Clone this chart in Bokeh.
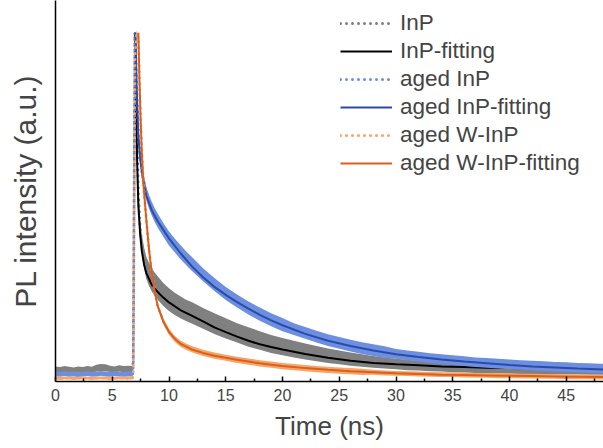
from bokeh.plotting import figure
from bokeh.models import Range1d, FixedTicker, Legend, LegendItem
from bokeh.embed import file_html
from bokeh.resources import INLINE

# ---- data ----
t_data = [0.0, 0.4, 0.8, 1.2, 1.6, 2.0, 2.4, 2.8, 3.2, 3.6, 4.0, 4.4, 4.8, 5.2, 5.6, 6.0, 6.4, 6.8,
          6.85, 7.0, 7.15, 7.3, 7.45, 7.6, 7.8, 8.0, 8.25, 8.5, 8.75, 9.0, 9.5, 10.0, 10.5, 11.0, 11.5, 12.0,
          13, 14, 15, 16, 17, 18, 19, 20, 21, 22, 23, 24, 25, 26, 27, 28, 29, 30, 31, 32, 33, 34, 35, 36,
          37, 38, 39, 40, 41, 42, 43, 44, 45, 46, 47, 48, 48.5]

inp_data = [0.026, 0.024, 0.027, 0.025, 0.023, 0.026, 0.024, 0.027, 0.025, 0.030, 0.032, 0.031, 0.028, 0.026, 0.029, 0.027, 0.028, 0.027,
            0.06, 1.0, 0.74, 0.54, 0.44, 0.39, 0.35, 0.32, 0.30, 0.285, 0.272, 0.262, 0.243, 0.228, 0.216, 0.206, 0.197, 0.190,
            0.174, 0.159, 0.145, 0.132, 0.120, 0.110, 0.100, 0.092, 0.085, 0.078, 0.072, 0.066, 0.061, 0.056, 0.052, 0.048, 0.045, 0.042, 0.039, 0.037, 0.035, 0.033, 0.031, 0.029,
            0.028, 0.027, 0.026, 0.025, 0.024, 0.024, 0.023, 0.023, 0.022, 0.022, 0.021, 0.021, 0.021]
inp_noise = [0.009, 0.009, 0.009, 0.009, 0.009, 0.009, 0.009, 0.009, 0.009, 0.010, 0.010, 0.010, 0.009, 0.009, 0.009, 0.009, 0.009, 0.009,
             0.0, 0.0, 0.015, 0.020, 0.025, 0.028, 0.030, 0.032, 0.033, 0.034, 0.034, 0.034, 0.033, 0.033, 0.032, 0.032, 0.031, 0.031,
             0.030, 0.030, 0.029, 0.028, 0.028, 0.027, 0.026, 0.025, 0.024, 0.023, 0.022, 0.021, 0.020, 0.019, 0.018, 0.017, 0.016, 0.015, 0.015, 0.014, 0.014, 0.013, 0.013, 0.012,
             0.012, 0.012, 0.011, 0.011, 0.011, 0.011, 0.010, 0.010, 0.010, 0.010, 0.010, 0.010, 0.010]

aged_data = [0.013, 0.012, 0.014, 0.012, 0.013, 0.011, 0.013, 0.014, 0.012, 0.013, 0.015, 0.013, 0.012, 0.014, 0.013, 0.012, 0.013, 0.013,
             0.04, 1.0, 0.85, 0.71, 0.65, 0.60, 0.565, 0.535, 0.51, 0.49, 0.472, 0.457, 0.43, 0.405, 0.385, 0.366, 0.348, 0.332,
             0.300, 0.272, 0.246, 0.224, 0.204, 0.186, 0.170, 0.156, 0.143, 0.132, 0.121, 0.111, 0.103, 0.095, 0.088, 0.082, 0.076, 0.071, 0.067, 0.063, 0.059, 0.056, 0.053, 0.050,
             0.047, 0.045, 0.043, 0.041, 0.039, 0.037, 0.036, 0.034, 0.033, 0.031, 0.030, 0.029, 0.029]
aged_noise = [0.007, 0.007, 0.007, 0.007, 0.007, 0.007, 0.007, 0.007, 0.007, 0.007, 0.007, 0.007, 0.007, 0.007, 0.007, 0.007, 0.007, 0.007,
              0.0, 0.0, 0.012, 0.016, 0.020, 0.020, 0.020, 0.020, 0.020, 0.020, 0.020, 0.020, 0.020, 0.020, 0.020, 0.020, 0.020, 0.020,
              0.019, 0.019, 0.019, 0.019, 0.019, 0.019, 0.019, 0.019, 0.017, 0.017, 0.017, 0.017, 0.017, 0.017, 0.017, 0.017, 0.017, 0.014, 0.014, 0.014, 0.014, 0.014, 0.014, 0.014,
              0.014, 0.014, 0.014, 0.014, 0.014, 0.014, 0.014, 0.014, 0.014, 0.014, 0.014, 0.014, 0.014]

agedw_data = [0.001, 0.000, 0.002, 0.001, 0.000, 0.001, 0.002, 0.001, 0.000, 0.001, 0.002, 0.001, 0.000, 0.001, 0.002, 0.001, 0.001, 0.001,
              0.02, 0.93, 1.0, 0.98, 0.80, 0.66, 0.54, 0.46, 0.37, 0.30, 0.25, 0.21, 0.165, 0.135, 0.115, 0.101, 0.092, 0.085,
              0.074, 0.066, 0.060, 0.054, 0.049, 0.044, 0.040, 0.036, 0.033, 0.030, 0.027, 0.025, 0.023, 0.021, 0.019, 0.018, 0.016, 0.015, 0.014, 0.013, 0.012, 0.011, 0.011, 0.010,
              0.009, 0.009, 0.008, 0.008, 0.007, 0.007, 0.006, 0.006, 0.005, 0.005, 0.005, 0.004, 0.004]
agedw_noise = [0.004, 0.004, 0.004, 0.004, 0.004, 0.004, 0.004, 0.004, 0.004, 0.004, 0.004, 0.004, 0.004, 0.004, 0.004, 0.004, 0.004, 0.004,
               0.0, 0.0, 0.008, 0.008, 0.008, 0.008, 0.008, 0.008, 0.008, 0.008, 0.008, 0.008, 0.009, 0.009, 0.009, 0.009, 0.009, 0.009,
               0.009, 0.009, 0.009, 0.009, 0.009, 0.009, 0.009, 0.009, 0.009, 0.009, 0.009, 0.009, 0.009, 0.009, 0.009, 0.007, 0.007, 0.007, 0.007, 0.007, 0.007, 0.007, 0.007, 0.007,
               0.007, 0.007, 0.007, 0.007, 0.007, 0.007, 0.007, 0.007, 0.007, 0.007, 0.007, 0.007, 0.007]

t_fit_inp = [7.0, 7.1, 7.2, 7.3, 7.45, 7.6, 7.8, 8.0, 8.5, 9.0, 9.5, 10, 11, 12, 13, 14, 15, 16, 17, 18, 19, 20,
             22, 24, 26, 28, 30, 32, 34, 36, 38, 40, 42, 44, 46, 48.5]
fit_inp = [1.0, 0.78, 0.62, 0.50, 0.42, 0.37, 0.33, 0.305, 0.27, 0.25, 0.234, 0.22, 0.198, 0.182, 0.165, 0.148, 0.134, 0.121, 0.109, 0.099, 0.091, 0.084,
           0.071, 0.060, 0.051, 0.045, 0.041, 0.038, 0.035, 0.033, 0.031, 0.030, 0.029, 0.028, 0.027, 0.026]

t_fit_aged = [7.05, 7.15, 7.3, 7.45, 7.6, 7.8, 8.0, 8.5, 9.0, 9.5, 10, 11, 12, 13, 14, 15, 16, 17, 18, 19, 20,
              22, 24, 26, 28, 30, 32, 34, 36, 38, 40, 42, 44, 46, 48.5]
fit_aged = [1.0, 0.84, 0.70, 0.64, 0.60, 0.56, 0.53, 0.485, 0.455, 0.43, 0.405, 0.363, 0.325, 0.293, 0.265, 0.242, 0.221, 0.202, 0.184, 0.168, 0.154,
            0.129, 0.109, 0.094, 0.081, 0.070, 0.062, 0.055, 0.049, 0.044, 0.039, 0.035, 0.032, 0.029, 0.026]

t_fit_agedw = [7.3, 7.4, 7.5, 7.6, 7.75, 8.0, 8.25, 8.5, 8.75, 9.0, 9.5, 10, 10.5, 11, 12, 13, 14, 15, 16, 17, 18, 19, 20,
               22, 24, 26, 28, 30, 32, 34, 36, 38, 40, 42, 44, 46, 48.5]
fit_agedw = [1.0, 0.86, 0.75, 0.66, 0.56, 0.46, 0.37, 0.30, 0.25, 0.21, 0.165, 0.135, 0.115, 0.101, 0.084, 0.074, 0.066, 0.060, 0.054, 0.049, 0.044, 0.040, 0.036,
             0.030, 0.025, 0.021, 0.018, 0.015, 0.013, 0.011, 0.010, 0.009, 0.008, 0.007, 0.006, 0.005, 0.004]

x_ticks = [0, 5, 10, 15, 20, 25, 30, 35, 40, 45]
x_minor = [2.5, 7.5, 12.5, 17.5, 22.5, 27.5, 32.5, 37.5, 42.5, 47.5]

labels = ["InP", "InP-fitting", "aged InP", "aged InP-fitting", "aged W-InP", "aged W-InP-fitting"]

FONT = "Liberation Sans"
C_GRAY, C_BLACK = "#808080", "#000000"
C_BLUE_D, C_BLUE_F = "#6d8fdf", "#2b4bab"
C_OR_D, C_OR_F = "#f7a467", "#d9601c"

p = figure(width=603, height=448, output_backend="svg", toolbar_location=None,
           x_range=Range1d(0, 48.28), y_range=Range1d(-0.0087, 1.0934),
           min_border_left=55, min_border_right=0, min_border_top=0, min_border_bottom=67)
p.outline_line_color = None
p.xgrid.visible = False
p.ygrid.visible = False
p.background_fill_color = "white"
p.border_fill_color = "white"


def draw_data(c, n, color):
    lo = [a - b for a, b in zip(c, n)]
    hi = [a + b for a, b in zip(c, n)]
    p.varea(x=t_data, y1=lo, y2=hi, fill_color=color, fill_alpha=1.0)
    return p.line(t_data, c, line_color=color, line_width=3, line_dash="0 6", line_cap="round")


r1 = draw_data(inp_data, inp_noise, C_GRAY)
r2 = p.line(t_fit_inp, fit_inp, line_color=C_BLACK, line_width=2)
r3 = draw_data(aged_data, aged_noise, C_BLUE_D)
r4 = p.line(t_fit_aged, fit_aged, line_color=C_BLUE_F, line_width=2)
r5 = draw_data(agedw_data, agedw_noise, C_OR_D)
r6 = p.line(t_fit_agedw, fit_agedw, line_color=C_OR_F, line_width=2)

legend = Legend(items=[LegendItem(label=l, renderers=[r]) for l, r in zip(labels, [r1, r2, r3, r4, r5, r6])],
                location=(285, 204), border_line_color=None, background_fill_alpha=0,
                padding=0, spacing=0, margin=0, glyph_width=52, glyph_height=28, label_height=28,
                label_standoff=8, label_text_font=FONT, label_text_font_size="22.5px")
p.add_layout(legend, "center")

xa = p.xaxis[0]
xa.ticker = FixedTicker(ticks=x_ticks, minor_ticks=x_minor)
xa.axis_label = "Time (ns)"
xa.axis_label_text_font = FONT
xa.axis_label_text_font_size = "26px"
xa.axis_label_text_font_style = "normal"
xa.axis_label_standoff = 7
xa.major_label_text_font = FONT
xa.major_label_text_font_size = "16px"
xa.major_label_standoff = 7
xa.major_tick_in = 5
xa.major_tick_out = 0
xa.minor_tick_in = 3
xa.minor_tick_out = 0
xa.axis_line_width = 1.5
xa.major_tick_line_width = 1.5
xa.minor_tick_line_width = 1.5

ya = p.yaxis[0]
ya.ticker = FixedTicker(ticks=[])
ya.axis_label = "PL intensity (a.u.)"
ya.axis_label_text_font = FONT
ya.axis_label_text_font_size = "30px"
ya.axis_label_text_font_style = "normal"
ya.axis_label_standoff = 14
ya.major_label_standoff = 0
ya.major_tick_in = 0
ya.major_tick_out = 0
ya.minor_tick_in = 0
ya.minor_tick_out = 0
ya.axis_line_width = 1.5

open("out.html", "w").write(file_html(p, INLINE))
